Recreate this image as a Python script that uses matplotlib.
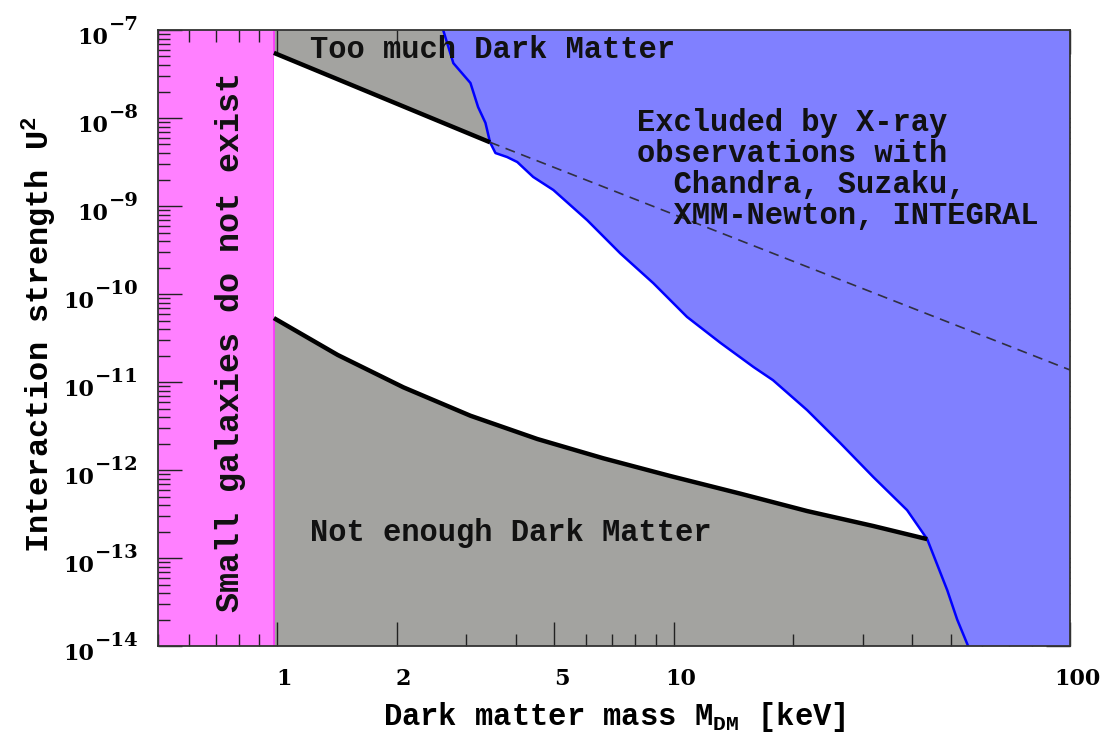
import numpy as np
import matplotlib
matplotlib.use("Agg")
import matplotlib.pyplot as plt
import matplotlib.transforms as mtransforms
from matplotlib.ticker import LogLocator, NullFormatter

# axis ranges
XMIN, XMAX = 0.5, 100
YMIN, YMAX = 1e-14, 1e-7
PINK_EDGE = 0.98   # small galaxies bound

# "too much dark matter" line: solid up to X-ray bound, dashed beyond
upper_mass = [0.98, 3.44]
upper_u2 = [5.5e-8, 5.3e-9]
dashed_mass = [3.44, 100]
dashed_u2 = [5.3e-9, 1.37e-11]

# "not enough dark matter" line
lower_mass = [0.98, 1.42, 2.08, 3.07, 4.53, 6.64, 9.8, 14.7, 21.7, 31.9, 43.6]
lower_u2 = [5.33e-11, 2.03e-11, 8.7e-12, 4.14e-12, 2.25e-12, 1.36e-12,
            8.55e-13, 5.4e-13, 3.42e-13, 2.31e-13, 1.64e-13]

# X-ray exclusion boundary
xray_mass = [2.62, 2.78, 3.07, 3.21, 3.35, 3.44, 3.55, 3.80, 4.03, 4.42, 4.97,
             6.05, 7.33, 8.88, 10.8, 13.1, 15.9, 17.8, 21.7, 26.3, 31.9, 38.8,
             43.6, 49.0, 51.9, 55.3]
xray_u2 = [1e-7, 4.2e-8, 2.5e-8, 1.33e-8, 8.8e-9, 5.3e-9, 4.0e-9, 3.6e-9,
           3.16e-9, 2.14e-9, 1.52e-9, 6.9e-10, 2.9e-10, 1.33e-10, 5.5e-11,
           2.8e-11, 1.48e-11, 1.05e-11, 4.8e-12, 2.03e-12, 8.3e-13, 3.5e-13,
           1.64e-13, 4.3e-14, 2.0e-14, 1e-14]

x_major = [1, 2, 5, 10, 100]
x_major_labels = ["1", "2", "5", "10", "100"]
y_exps = list(range(-14, -6))

PINK = "#ff80ff"
GREY = "#a3a3a0"
BLUE = "#8080ff"
MONO = "Liberation Mono"
SERIF = "DejaVu Serif"


def main():
    fig = plt.figure(figsize=(11.09, 7.39), dpi=100)
    ax = fig.add_axes([0.1425, 0.1258, 0.8224, 0.8336])
    ax.set_xscale("log")
    ax.set_yscale("log")
    ax.set_xlim(XMIN, XMAX)
    ax.set_ylim(YMIN, YMAX)

    # background regions
    ax.axvspan(XMIN, PINK_EDGE, color=PINK, lw=0, zorder=0)
    ax.axvline(PINK_EDGE, color="#ff30ff", lw=1.2, zorder=0.5)
    ax.axvspan(PINK_EDGE, XMAX, color=GREY, lw=0, zorder=0)

    # allowed (white) window: lower line, X-ray bound back up, upper line back
    xm = np.array(xray_mass)
    xu = np.array(xray_u2)
    sel = (xm >= upper_mass[-1]) & (xm <= lower_mass[-1])
    wx = list(lower_mass) + list(xm[sel][::-1]) + list(upper_mass[::-1])
    wy = list(lower_u2) + list(xu[sel][::-1]) + list(upper_u2[::-1])
    ax.fill(wx, wy, color="white", lw=0, zorder=1)

    # X-ray excluded region
    bx = list(xray_mass) + [XMAX, XMAX]
    by = list(xray_u2) + [YMIN, YMAX]
    ax.fill(bx, by, color=BLUE, lw=0, zorder=2)

    ax.plot(xray_mass, xray_u2, color="#0000ff", lw=1.8, zorder=3)
    ax.plot(upper_mass, upper_u2, color="black", lw=3.2, zorder=3,
            solid_capstyle="butt")
    ax.plot(dashed_mass, dashed_u2, color="#303040", lw=1.2,
            linestyle=(0, (6, 4)), zorder=3)
    ax.plot(lower_mass, lower_u2, color="black", lw=3.2, zorder=3,
            solid_capstyle="butt", solid_joinstyle="round")

    # ticks
    ax.set_xticks(x_major)
    ax.set_xticklabels(x_major_labels)
    ax.xaxis.set_minor_locator(LogLocator(base=10, subs=np.arange(2, 10),
                                          numticks=20))
    ax.xaxis.set_minor_formatter(NullFormatter())
    ax.set_yticks([10.0 ** e for e in y_exps])
    ax.set_yticklabels([])
    ax.yaxis.set_minor_locator(LogLocator(base=10, subs=np.arange(2, 10),
                                          numticks=20))
    ax.yaxis.set_minor_formatter(NullFormatter())

    ax.tick_params(which="both", direction="in", top=True, right=True,
                   color="#222222", width=1.0, zorder=5)
    ax.tick_params(which="major", length=17)
    ax.tick_params(which="minor", length=8.5)
    ax.tick_params(axis="x", which="major", pad=16, labelsize=16)
    shift = mtransforms.ScaledTranslation(7 / 100, 0, fig.dpi_scale_trans)
    for lab in ax.get_xticklabels():
        lab.set_fontfamily(SERIF)
        lab.set_fontweight("bold")
        lab.set_transform(lab.get_transform() + shift)
    for sp in ax.spines.values():
        sp.set_color("#333333")
        sp.set_linewidth(1.3)
        sp.set_zorder(6)

    # y tick labels "10" with a large raised exponent
    for e in y_exps:
        exp_t = ax.annotate(f"\u2212{abs(e)}", xy=(0, 10.0 ** e),
                            xycoords=("axes fraction", "data"),
                            xytext=(-19, 5), textcoords="offset pixels",
                            ha="right", va="center", fontsize=14,
                            fontfamily=SERIF, fontweight="bold")
        ax.annotate("10", xy=(0, 0), xycoords=exp_t,
                    xytext=(-1, -4), textcoords="offset pixels",
                    ha="right", va="center", fontsize=16,
                    fontfamily=SERIF, fontweight="bold")

    # labels
    ax.set_xlabel(r"Dark matter mass M$_{\mathdefault{DM}}$ [keV]",
                  fontfamily=MONO, fontweight="bold", fontsize=22, labelpad=7)
    ax.set_ylabel(r"Interaction strength U$^{\mathdefault{2}}$",
                  fontfamily=MONO, fontweight="bold", fontsize=23)
    ax.yaxis.set_label_coords(-0.110, 0.505)

    txt = dict(fontfamily=MONO, fontweight="bold", fontsize=22,
               color="#111111", zorder=4)
    ax.text(1.21, 5.9e-8, "Too much Dark Matter", va="center", ha="left", **txt)
    ax.text(1.21, 1.92e-13, "Not enough Dark Matter", va="center", ha="left",
            **txt)
    ax.text(8.09, 1.3e-8,
            "Excluded by X-ray\nobservations with\n  Chandra, Suzaku,\n"
            "  XMM-Newton, INTEGRAL",
            va="top", ha="left", linespacing=1.05, **txt)
    ax.text(0.079, 0.494, "Small galaxies do not exist", rotation=90,
            transform=ax.transAxes, va="center", ha="center",
            **{**txt, "fontsize": 24})

    fig.savefig("out.png", dpi=100)
    plt.close(fig)


if __name__ == "__main__":
    main()
